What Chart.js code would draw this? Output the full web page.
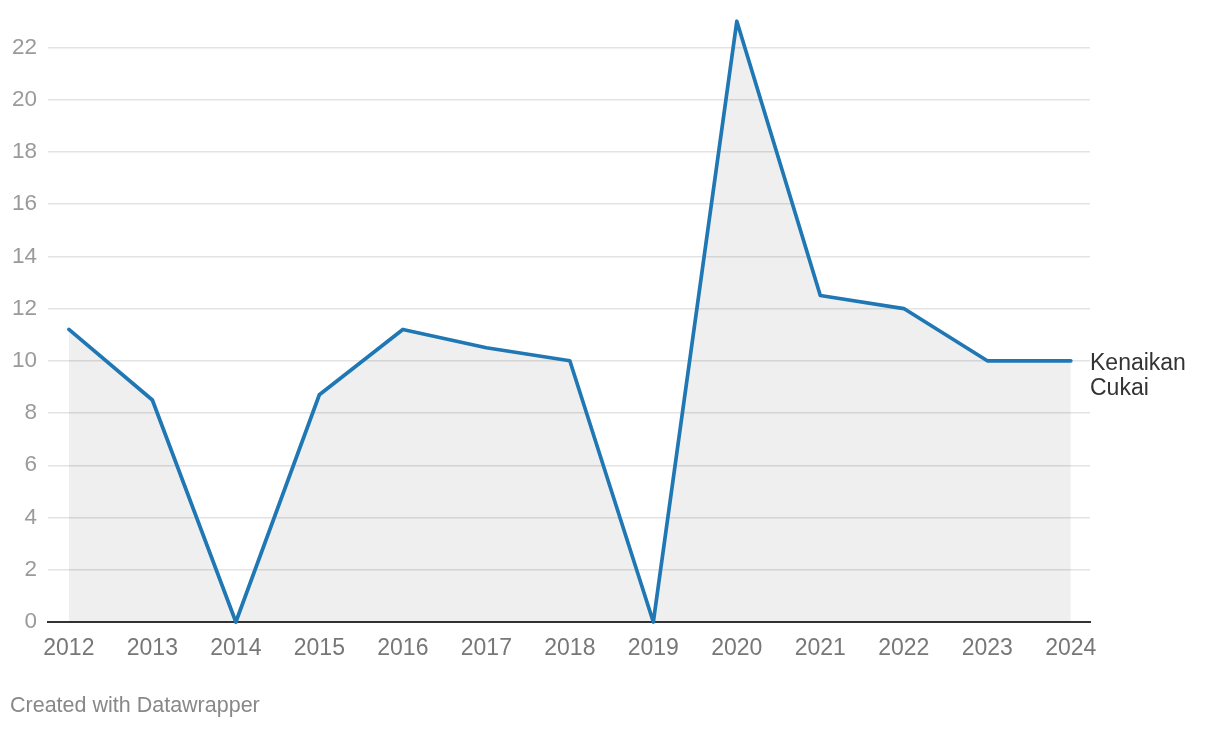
<!DOCTYPE html>
<html>
<head>
<meta charset="utf-8">
<script src="https://cdn.jsdelivr.net/npm/chart.js@4"></script>
<style>
  html, body { margin: 0; padding: 0; background: #fff; }
  #wrap { position: relative; width: 1220px; height: 730px; }
  #c { position: absolute; left: 0; top: 0; }
  #foot { position: absolute; left: 10px; top: 693px; font: 21.5px "Liberation Sans", Arial, Helvetica, sans-serif; color: #888; }
</style>
</head>
<body>
<div id="wrap">
  <canvas id="c" width="1220" height="730"></canvas>
  <div id="foot">Created with Datawrapper</div>
</div>
<script>
const years = [2012, 2013, 2014, 2015, 2016, 2017, 2018, 2019, 2020, 2021, 2022, 2023, 2024];
const kenaikanCukai = [11.2, 8.5, 0, 8.7, 11.2, 10.5, 10, 0, 23, 12.5, 12, 10, 10];
const yTicks = [0, 2, 4, 6, 8, 10, 12, 14, 16, 18, 20, 22];
const seriesLabel = ['Kenaikan', 'Cukai'];

const FONT = '"Liberation Sans", Arial, Helvetica, sans-serif';

const endLabel = {
  id: 'endLabel',
  afterDatasetsDraw(chart) {
    const meta = chart.getDatasetMeta(0);
    const last = meta.data[meta.data.length - 1];
    const ctx = chart.ctx;
    ctx.save();
    ctx.font = '23px ' + FONT;
    ctx.fillStyle = '#333';
    ctx.textAlign = 'left';
    ctx.textBaseline = 'middle';
    const x = chart.chartArea.right;
    seriesLabel.forEach((t, i) => ctx.fillText(t, x, last.y + 2.5 + i * 25));
    ctx.restore();
  }
};

new Chart(document.getElementById('c'), {
  type: 'line',
  data: {
    datasets: [{
      data: years.map((y, i) => ({ x: y, y: kenaikanCukai[i] })),
      borderColor: '#1f77b4',
      borderWidth: 3.7,
      borderJoinStyle: 'round',
      borderCapStyle: 'round',
      backgroundColor: 'rgba(0,0,0,0.062)',
      fill: 'origin',
      tension: 0,
      pointRadius: 0,
      clip: false
    }]
  },
  options: {
    responsive: false,
    animation: false,
    events: [],
    layout: { padding: { top: 16, right: 130, bottom: 0, left: 0 } },
    plugins: { legend: { display: false }, tooltip: { enabled: false } },
    scales: {
      x: {
        type: 'linear',
        min: 2011.75,
        max: 2024.23,
        afterBuildTicks: (s) => { s.ticks = years.map(v => ({ value: v })); },
        afterFit: (s) => { s.height = 108; s.paddingLeft = 0; s.paddingRight = 0; },
        grid: { display: false, drawTicks: false },
        border: { display: true, color: '#333', width: 2 },
        ticks: {
          padding: 13,
          color: '#777',
          font: { family: FONT, size: 23 },
          maxRotation: 0,
          autoSkip: false,
          callback: (v) => String(v)
        }
      },
      y: {
        min: 0,
        max: 23.2,
        afterBuildTicks: (s) => { s.ticks = yTicks.map(v => ({ value: v })); },
        afterFit: (s) => { s.width = 48; s.paddingTop = 0; s.paddingBottom = 0; },
        grid: { color: '#e3e3e3', lineWidth: 1.5, drawTicks: false },
        border: { display: false },
        ticks: {
          padding: 11,
          color: '#9a9a9a',
          font: { family: FONT, size: 22.5 },
          callback: (v) => String(v)
        }
      }
    }
  },
  plugins: [endLabel]
});
</script>
</body>
</html>
